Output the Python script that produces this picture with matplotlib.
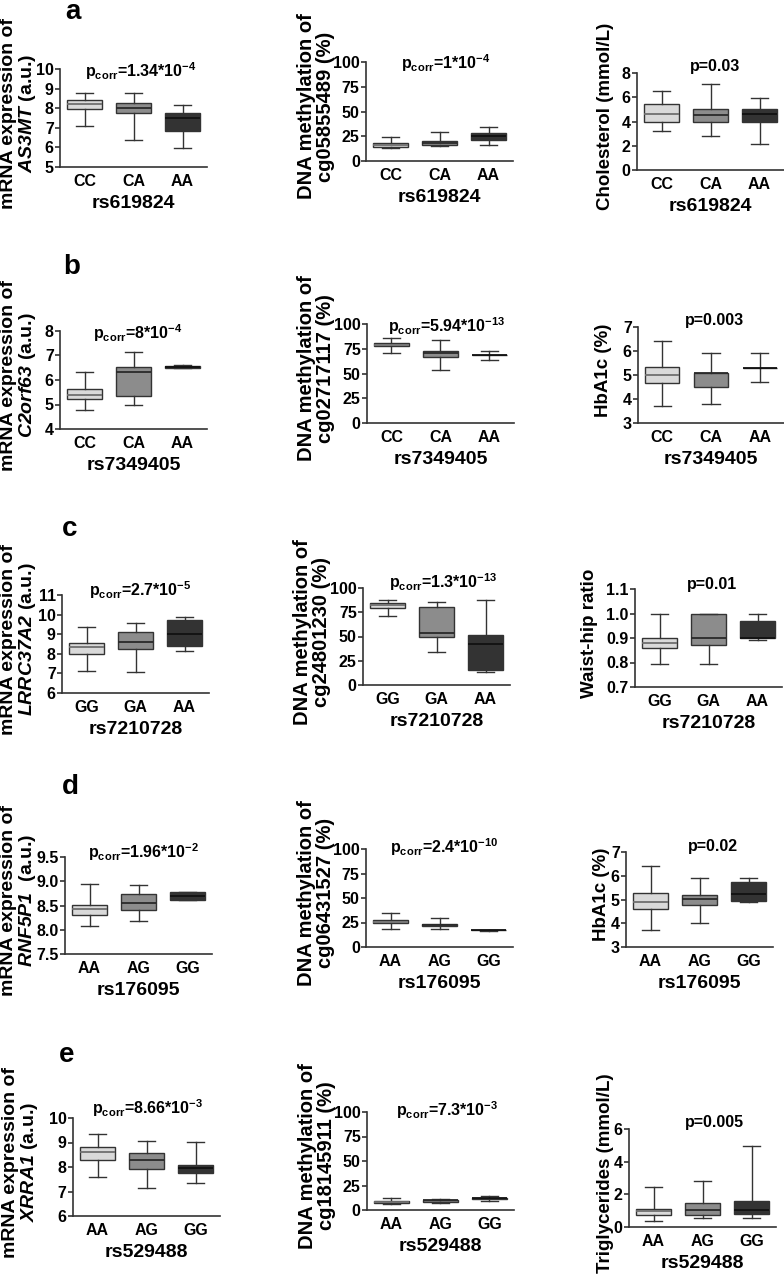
import matplotlib
matplotlib.use("Agg")
import matplotlib.pyplot as plt
from matplotlib.ticker import FormatStrFormatter

plt.rcParams["font.family"] = ["Liberation Sans", "DejaVu Sans"]
plt.rcParams["font.weight"] = "bold"
plt.rcParams["mathtext.fontset"] = "custom"
plt.rcParams["mathtext.default"] = "regular"
plt.rcParams["mathtext.rm"] = "Liberation Sans:bold"
plt.rcParams["mathtext.sf"] = "Liberation Sans:italic:bold"

# genotype groups per SNP
GT_RS619824 = ["CC", "CA", "AA"]
GT_RS7349405 = ["CC", "CA", "AA"]
GT_RS7210728 = ["GG", "GA", "AA"]
GT_RS176095 = ["AA", "AG", "GG"]
GT_RS529488 = ["AA", "AG", "GG"]

# box stats per genotype: [whisker low, q1, median, q3, whisker high]
AS3MT_MRNA = [[7.1, 7.97, 8.2, 8.4, 8.8], [6.4, 7.75, 8.0, 8.25, 8.8], [5.95, 6.82, 7.52, 7.75, 8.15]]
CG05855489_METH = [[13.5, 14.5, 16.5, 18.5, 24.0], [14.9, 16.3, 18.0, 20.3, 28.8], [16.0, 21.0, 25.0, 28.5, 33.9]]
CHOLESTEROL = [[3.23, 3.92, 4.58, 5.48, 6.5], [2.82, 3.92, 4.5, 5.07, 7.1], [2.11, 3.92, 4.63, 5.07, 5.9]]

C2ORF63_MRNA = [[4.78, 5.22, 5.39, 5.62, 6.31], [4.97, 5.35, 6.31, 6.54, 7.15], [6.49, 6.51, 6.55, 6.58, 6.6]]
CG02717117_METH = [[70.5, 77.3, 79.0, 80.7, 85.4], [53.6, 67.1, 70.5, 72.5, 84.0], [63.7, 68.5, 68.5, 68.5, 73.2]]
HBA1C_RS7349405 = [[3.72, 4.68, 5.0, 5.32, 6.4], [3.8, 4.49, 5.07, 5.1, 5.9], [4.7, 5.3, 5.3, 5.3, 5.9]]

LRRC37A2_MRNA = [[7.1, 7.97, 8.33, 8.53, 9.35], [7.06, 8.24, 8.58, 9.11, 9.57], [8.15, 8.39, 9.0, 9.7, 9.87]]
CG24801230_METH = [[71.2, 79.8, 82.9, 85.0, 88.0], [33.6, 49.0, 54.1, 80.5, 85.3], [13.4, 15.4, 41.8, 52.0, 87.3]]
WAIST_HIP = [[0.793, 0.861, 0.88, 0.9, 1.0], [0.793, 0.871, 0.9, 1.0, 1.0], [0.893, 0.9, 0.9, 0.968, 1.0]]

RNF5P1_MRNA = [[8.08, 8.31, 8.43, 8.52, 8.95], [8.18, 8.41, 8.56, 8.73, 8.93], [8.61, 8.61, 8.69, 8.77, 8.78]]
CG06431527_METH = [[18.4, 24.1, 25.9, 27.9, 34.7], [18.4, 21.1, 22.4, 23.8, 29.9], [16.8, 16.9, 17.3, 17.7, 17.8]]
HBA1C_RS176095 = [[3.7, 4.59, 4.9, 5.29, 6.4], [4.0, 4.78, 5.02, 5.17, 5.91], [4.88, 4.95, 5.22, 5.75, 5.91]]

XRRA1_MRNA = [[7.58, 8.29, 8.63, 8.81, 9.34], [7.13, 7.91, 8.29, 8.56, 9.08], [7.36, 7.77, 7.95, 8.07, 9.03]]
CG18145911_METH = [[5.8, 6.8, 7.8, 9.2, 12.5], [7.5, 8.5, 9.8, 10.5, 11.5], [9.2, 11.2, 12.2, 12.5, 14.2]]
TRIGLYCERIDES = [[0.35, 0.73, 0.98, 1.12, 2.45], [0.53, 0.71, 1.06, 1.47, 2.84], [0.53, 0.82, 1.06, 1.61, 4.94]]

Y_LABELS = [
    "mRNA expression of\n$\\mathsf{AS3MT}$ (a.u.)", "DNA methylation of\ncg05855489 (%)", "Cholesterol (mmol/L)",
    "mRNA expression of\n$\\mathsf{C2orf63}$ (a.u.)", "DNA methylation of\ncg02717117 (%)", "HbA1c (%)",
    "mRNA expression of\n$\\mathsf{LRRC37A2}$ (a.u.)", "DNA methylation of\ncg24801230 (%)", "Waist-hip ratio",
    "mRNA expression of\n$\\mathsf{RNF5P1}$  (a.u.)", "DNA methylation of\ncg06431527 (%)", "HbA1c (%)",
    "mRNA expression of\n$\\mathsf{XRRA1}$ (a.u.)", "DNA methylation of\ncg18145911 (%)", "Triglycerides (mmol/L)",
]
P_TEXTS = [
    "$p_{corr}$=1.34*$10^{-4}$", "$p_{corr}$=1*$10^{-4}$", "p=0.03",
    "$p_{corr}$=8*$10^{-4}$", "$p_{corr}$=5.94*$10^{-13}$", "p=0.003",
    "$p_{corr}$=2.7*$10^{-5}$", "$p_{corr}$=1.3*$10^{-13}$", "p=0.01",
    "$p_{corr}$=1.96*$10^{-2}$", "$p_{corr}$=2.4*$10^{-10}$", "p=0.02",
    "$p_{corr}$=8.66*$10^{-3}$", "$p_{corr}$=7.3*$10^{-3}$", "p=0.005",
]
Y_TICKS = [
    [5, 6, 7, 8, 9, 10], [0, 25, 50, 75, 100], [0, 2, 4, 6, 8],
    [4, 5, 6, 7, 8], [0, 25, 50, 75, 100], [3, 4, 5, 6, 7],
    [6, 7, 8, 9, 10, 11], [0, 25, 50, 75, 100], [0.7, 0.8, 0.9, 1.0, 1.1],
    [7.5, 8.0, 8.5, 9.0, 9.5], [0, 25, 50, 75, 100], [3, 4, 5, 6, 7],
    [6, 7, 8, 9, 10], [0, 25, 50, 75, 100], [0, 2, 4, 6],
]
Y_FORMATS = ["%d", "%d", "%d", "%d", "%d", "%d", "%d", "%d", "%.1f",
             "%.1f", "%d", "%d", "%d", "%d", "%d"]
PANEL_LETTERS = ["a", "b", "c", "d", "e"]

STATS = [AS3MT_MRNA, CG05855489_METH, CHOLESTEROL,
         C2ORF63_MRNA, CG02717117_METH, HBA1C_RS7349405,
         LRRC37A2_MRNA, CG24801230_METH, WAIST_HIP,
         RNF5P1_MRNA, CG06431527_METH, HBA1C_RS176095,
         XRRA1_MRNA, CG18145911_METH, TRIGLYCERIDES]
GENOTYPES = [GT_RS619824, GT_RS7349405, GT_RS7210728, GT_RS176095, GT_RS529488]
SNPS = ["rs619824", "rs7349405", "rs7210728", "rs176095", "rs529488"]

# layout in pixels: axes (x0, x1, ytop, ybot), ylabel centre x, p-text centre (x, y)
W, H = 784, 1275
AXES_PX = [
    (60, 207, 69, 167), (366, 513, 62, 161), (637, 784, 73, 170),
    (60, 207, 331, 429), (367, 514, 324, 423), (638, 784, 327, 423),
    (62, 209, 595, 693), (363, 510, 588, 685), (635, 782, 589, 687),
    (65, 212, 857, 954), (366, 513, 849, 947), (626, 773, 852, 947),
    (73, 220, 1118, 1216), (367, 514, 1112, 1210), (629, 776, 1129, 1227),
]
YLABEL_X = [19, 316, 605, 19, 316, 604, 19, 312, 590, 19, 316, 602, 21, 317, 606]
YLABEL_SIZE = [14, 14.5, 13.5]  # left, middle, right column
P_POS = [(141, 71), (446, 63), (715, 67), (138, 333), (447, 326), (714, 321),
         (140, 590), (443, 582), (712, 584), (144, 852), (444, 847), (713, 847),
         (148, 1108), (447, 1110), (715, 1122)]
LETTER_POS = [(73, 12), (72, 267), (70, 529), (70, 787), (67, 1055)]

FILLS = ["#d9d9d9", "#8c8c8c", "#333333"]
MEDIANS = ["#6f6f6f", "#2a2a2a", "#111111"]
LINE = "#333333"


def draw_panel(fig, i):
    x0, x1, ytop, ybot = AXES_PX[i]
    ax = fig.add_axes([x0 / W, 1 - ybot / H, (x1 - x0) / W, (ybot - ytop) / H])
    genotypes = GENOTYPES[i // 3]
    stats = [dict(whislo=s[0], q1=s[1], med=s[2], q3=s[3], whishi=s[4], label=g)
             for s, g in zip(STATS[i], genotypes)]
    bp = ax.bxp(stats, positions=[1, 2, 3], widths=0.7, patch_artist=True, showfliers=False,
                boxprops=dict(edgecolor=LINE, linewidth=1.0),
                whiskerprops=dict(color=LINE, linewidth=1.0),
                capprops=dict(color=LINE, linewidth=1.0),
                medianprops=dict(linewidth=1.3))
    for box, fill in zip(bp["boxes"], FILLS):
        box.set_facecolor(fill)
    for med, c in zip(bp["medians"], MEDIANS):
        med.set_color(c)

    ax.set_xlim(0.5, 3.5)
    ticks = Y_TICKS[i]
    ax.set_ylim(ticks[0], ticks[-1])
    ax.set_yticks(ticks)
    ax.yaxis.set_major_formatter(FormatStrFormatter(Y_FORMATS[i]))
    for side in ("top", "right"):
        ax.spines[side].set_visible(False)
    for side in ("left", "bottom"):
        ax.spines[side].set_color(LINE)
        ax.spines[side].set_linewidth(1.2)
    ax.tick_params(axis="y", length=3.5, width=1.2, color=LINE, pad=1, labelsize=11.5)
    ax.tick_params(axis="x", length=0, pad=5, labelsize=11.5)

    ax.set_ylabel(Y_LABELS[i], fontsize=YLABEL_SIZE[i % 3], fontweight="bold",
                  va="center", linespacing=0.95)
    ax.yaxis.set_label_coords((YLABEL_X[i] - x0) / (x1 - x0), 0.55)
    ax.set_xlabel(SNPS[i // 3], fontsize=14, fontweight="bold")
    ax.xaxis.set_label_coords(0.5, -28 / (ybot - ytop))

    px, py = P_POS[i]
    fig.text(px / W, 1 - py / H, P_TEXTS[i], fontsize=11.5, fontweight="bold",
             ha="center", va="center")


fig = plt.figure(figsize=(W / 100, H / 100), dpi=100)
for i in range(15):
    draw_panel(fig, i)
for letter, (lx, ly) in zip(PANEL_LETTERS, LETTER_POS):
    fig.text(lx / W, 1 - ly / H, letter, fontsize=20, fontweight="bold", ha="center", va="center")

fig.savefig("out.png", dpi=100)
